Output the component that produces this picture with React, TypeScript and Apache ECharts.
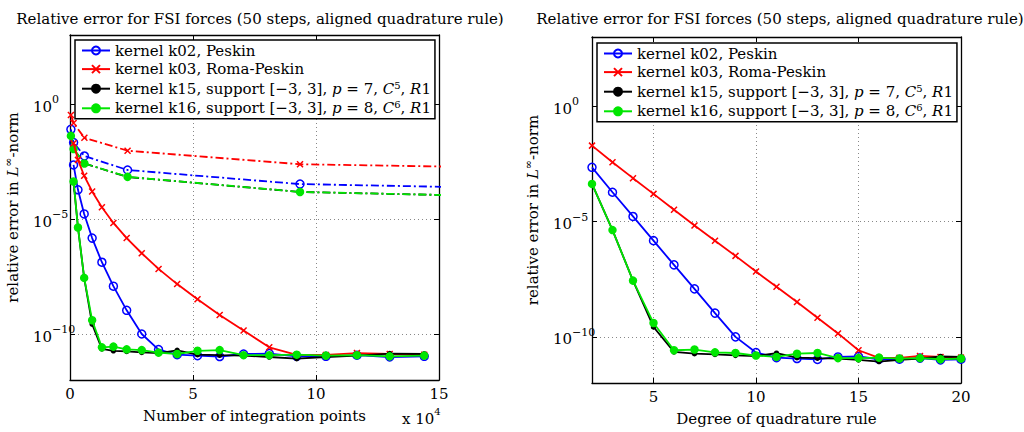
import React, { useEffect, useRef } from 'react';
import * as echarts from 'echarts';

// ---------- data ----------
const titleText = 'Relative error for FSI forces (50 steps, aligned quadrature rule)';
const seriesNames = [
  'kernel k02, Peskin',
  'kernel k03, Roma-Peskin',
  'kernel k15, support [-3, 3], p = 7, C5, R1',
  'kernel k16, support [-3, 3], p = 8, C6, R1',
];
const legendLabels = [
  '{n|kernel k02, Peskin}',
  '{n|kernel k03, Roma-Peskin}',
  '{n|kernel k15, support [−3, 3], }{i|p}{n| = 7, }{i|C}{s|5}{n|, }{i|R}{n|1}',
  '{n|kernel k16, support [−3, 3], }{i|p}{n| = 8, }{i|C}{s|6}{n|, }{i|R}{n|1}',
];

// degree of quadrature rule
const degrees = [2, 3, 4, 5, 6, 7, 8, 9, 10, 11, 12, 13, 14, 15, 16, 17, 18, 19, 20];
// number of integration points belonging to each degree
const integrationPoints = [1440, 3240, 5760, 9000, 12960, 17640, 23040, 29160, 36000, 43560, 51840, 60840, 70560, 81000, 92160, 104040, 116640, 129960, 144000];

const errK02 = [2.24e-3, 1.86e-4, 1.66e-5, 1.48e-6, 1.32e-7, 1.2e-8, 1.07e-9, 1.0e-10, 2.09e-11, 1.26e-11, 1.15e-11, 1.05e-11, 1.35e-11, 1.41e-11, 1.07e-11, 1.07e-11, 1.2e-11, 1.0e-11, 1.07e-11];
const errK03 = [1.95e-2, 3.72e-3, 7.59e-4, 1.58e-4, 3.24e-5, 6.76e-6, 1.48e-6, 3.24e-7, 6.76e-8, 1.48e-8, 3.24e-9, 6.76e-10, 1.41e-10, 2.63e-11, 1.23e-11, 1.23e-11, 1.48e-11, 1.35e-11, 1.26e-11];
const errK15 = [4.27e-4, 4.27e-6, 2.75e-8, 2.69e-10, 2.24e-11, 1.86e-11, 1.74e-11, 1.58e-11, 1.48e-11, 1.95e-11, 1.26e-11, 1.2e-11, 1.15e-11, 1.0e-11, 8.5e-12, 1.0e-11, 1.15e-11, 1.41e-11, 1.35e-11];
const errK16 = [4.27e-4, 4.27e-6, 2.75e-8, 3.98e-10, 2.63e-11, 2.82e-11, 2.14e-11, 2.0e-11, 1.55e-11, 1.35e-11, 1.86e-11, 2.0e-11, 1.2e-11, 1.2e-11, 1.26e-11, 1.15e-11, 1.2e-11, 1.07e-11, 1.15e-11];

// dash-dotted reference runs (left panel)
const refPoints = [365, 1460, 5850, 23400, 93500, 374000];
const refK02 = [7.9e-2, 2.1e-2, 5.5e-3, 1.35e-3, 3.3e-4, 8.7e-5];
const refK03 = [0.33, 0.148, 0.034, 9.3e-3, 2.4e-3, 7.9e-4];
const refK15 = [4.0e-2, 1.1e-2, 2.6e-3, 6.7e-4, 1.5e-4, 3.4e-5];
const refK16 = [4.1e-2, 1.1e-2, 2.6e-3, 6.8e-4, 1.5e-4, 3.4e-5];

const leftXTicks = ['0', '5', '10', '15'];

// ---------- styling ----------
const serif = '"DejaVu Serif", "Liberation Serif", serif';
const FS = 15;
const colors = ['#0000ff', '#ff0000', '#000000', '#00e600'];
const symbols = ['circle', 'path://M0,0L10,10M10,0L0,10', 'circle', 'circle'];
const symbolSizes = [8, 6, 4, 7];
const fills = ['rgba(255,255,255,0)', '#ff0000', '#000000', '#00e600'];

const pair = (xs: number[], ys: number[]) => xs.map((x, i) => [x, ys[i]]);

function supLabel(value: number) {
  if (!(value > 0)) return '';
  const e = Math.round(Math.log10(value));
  const es = e < 0 ? '−' + -e : String(e);
  return '{b|10}{s|' + es + '}';
}

const tickRich = {
  b: { fontFamily: serif, fontSize: FS, color: '#000', lineHeight: 20, verticalAlign: 'bottom' },
  s: { fontFamily: serif, fontSize: 11, color: '#000', lineHeight: 20, verticalAlign: 'top' },
};

const legendRich = {
  n: { fontFamily: serif, fontSize: FS, color: '#000', lineHeight: 17 },
  i: { fontFamily: serif, fontSize: FS, color: '#000', fontStyle: 'italic', lineHeight: 17 },
  s: { fontFamily: serif, fontSize: 10, color: '#000', lineHeight: 17, verticalAlign: 'top' },
};

function makeLegend(left: number, top: number) {
  return {
    data: seriesNames,
    orient: 'vertical',
    left,
    top,
    backgroundColor: '#fff',
    borderColor: '#000',
    borderWidth: 1.5,
    borderRadius: 0,
    padding: [3, 4, 3, 6],
    itemGap: 3.6,
    itemWidth: 28,
    itemHeight: 10,
    selectedMode: false,
    textStyle: { fontFamily: serif, fontSize: FS, color: '#000', rich: legendRich },
    formatter: (name: string) => legendLabels[seriesNames.indexOf(name)],
  };
}

const splitLine = { show: true, lineStyle: { color: '#888', type: [1, 3], width: 1 } };
const axisLineBlack = { show: true, onZero: false, lineStyle: { color: '#000', width: 1.3 } };
const tickIn = { show: true, inside: true, length: 5, lineStyle: { color: '#000', width: 1 } };

export default function App() {
  const ref = useRef<HTMLDivElement>(null);
  useEffect(() => {
    if (!ref.current) return;
    const chart = echarts.init(ref.current, null, { renderer: 'svg' });

    const yBase = (gridIndex: number) => ({
      type: 'log',
      logBase: 100000,
      min: 1e-12,
      max: 1e3,
      gridIndex,
    });

    const series: any[] = [];
    const solid = [errK02, errK03, errK15, errK16];
    const refs = [refK02, refK03, refK15, refK16];
    const lineSeries = (name: string, k: number, xi: number, data: number[][], dashed: boolean) => ({
      type: 'line',
      name,
      xAxisIndex: xi,
      yAxisIndex: xi,
      data,
      symbol: symbols[k],
      symbolSize: symbolSizes[k],
      lineStyle: { color: colors[k], width: 1.8, type: dashed ? [8, 3, 2, 3] : 'solid' },
      itemStyle: { color: fills[k], borderColor: colors[k], borderWidth: 1.5 },
      z: (dashed ? 2 : 6) + k,
    });
    refs.forEach((ys, k) => series.push(lineSeries(seriesNames[k] + ' (ref)', k, 0, pair(refPoints, ys), true)));
    solid.forEach((ys, k) => series.push(lineSeries(seriesNames[k], k, 0, pair(integrationPoints, ys), false)));
    solid.forEach((ys, k) => series.push(lineSeries(seriesNames[k], k, 2, pair(degrees, ys), false)));

    const yName = 'relative error in {i|L}{s|∞}{n|-norm}';
    const yNameStyle = {
      fontFamily: serif,
      fontSize: FS,
      color: '#000',
      rich: {
        n: { fontFamily: serif, fontSize: FS, color: '#000' },
        i: { fontFamily: serif, fontSize: FS, color: '#000', fontStyle: 'italic' },
        s: { fontFamily: serif, fontSize: 11, color: '#000', padding: [0, 0, 8, 0] },
      },
    };
    const titleStyle = { fontFamily: serif, fontSize: FS, fontWeight: 'normal', color: '#000' };

    chart.setOption({
      animation: false,
      backgroundColor: '#fff',
      title: [
        { text: titleText, left: 255, textAlign: 'center', top: 6, textStyle: titleStyle },
        { text: titleText, left: 775, textAlign: 'center', top: 6, textStyle: titleStyle },
      ],
      legend: [makeLegend(75, 40), makeLegend(597, 43)],
      grid: [
        { left: 70, top: 35, width: 369, height: 345 },
        { left: 592, top: 37, width: 369, height: 346 },
      ],
      xAxis: [
        {
          type: 'value', gridIndex: 0, min: 0, max: 150000, interval: 50000,
          name: 'Number of integration points', nameLocation: 'middle', nameGap: 28,
          nameTextStyle: { fontFamily: serif, fontSize: FS, color: '#000' },
          axisLine: axisLineBlack, axisTick: tickIn, splitLine,
          axisLabel: { fontFamily: serif, fontSize: FS, color: '#000', margin: 6, formatter: (v: number) => leftXTicks[Math.round(v / 50000)] },
        },
        {
          type: 'value', gridIndex: 0, min: 0, max: 150000, interval: 50000, position: 'top',
          axisLine: axisLineBlack, axisTick: tickIn, splitLine: { show: false }, axisLabel: { show: false },
        },
        {
          type: 'value', gridIndex: 1, min: 2, max: 20, splitNumber: 4,
          name: 'Degree of quadrature rule', nameLocation: 'middle', nameGap: 28,
          nameTextStyle: { fontFamily: serif, fontSize: FS, color: '#000' },
          axisLine: axisLineBlack, axisTick: tickIn, splitLine,
          axisLabel: { fontFamily: serif, fontSize: FS, color: '#000', margin: 6, showMinLabel: false },
        },
        {
          type: 'value', gridIndex: 1, min: 2, max: 20, splitNumber: 4, position: 'top',
          axisLine: axisLineBlack, axisTick: tickIn, splitLine: { show: false }, axisLabel: { show: false },
        },
      ],
      yAxis: [
        {
          ...yBase(0),
          name: yName, nameLocation: 'middle', nameGap: 48, nameTextStyle: yNameStyle,
          axisLine: axisLineBlack, axisTick: tickIn, splitLine,
          axisLabel: { align: 'left', margin: 37, showMinLabel: false, showMaxLabel: false, formatter: supLabel, rich: tickRich },
        },
        {
          ...yBase(0), position: 'right',
          axisLine: axisLineBlack, axisTick: tickIn, splitLine: { show: false }, axisLabel: { show: false },
        },
        {
          ...yBase(1),
          name: yName, nameLocation: 'middle', nameGap: 50, nameTextStyle: yNameStyle,
          axisLine: axisLineBlack, axisTick: tickIn, splitLine,
          axisLabel: { align: 'left', margin: 39, showMinLabel: false, showMaxLabel: false, formatter: supLabel, rich: tickRich },
        },
        {
          ...yBase(1), position: 'right',
          axisLine: axisLineBlack, axisTick: tickIn, splitLine: { show: false }, axisLabel: { show: false },
        },
      ],
      graphic: [
        {
          type: 'text', left: 402, top: 406,
          style: {
            text: '{b|x 10}{s|4}',
            rich: {
              b: { fontFamily: serif, fontSize: FS, color: '#000', lineHeight: 20, verticalAlign: 'bottom' },
              s: { fontFamily: serif, fontSize: 10, color: '#000', lineHeight: 20, verticalAlign: 'top' },
            },
          },
        },
      ],
      series,
    });
    return () => chart.dispose();
  }, []);
  return <div ref={ref} style={{ position: 'fixed', left: 0, top: 0, width: 1024, height: 432 }} />;
}
